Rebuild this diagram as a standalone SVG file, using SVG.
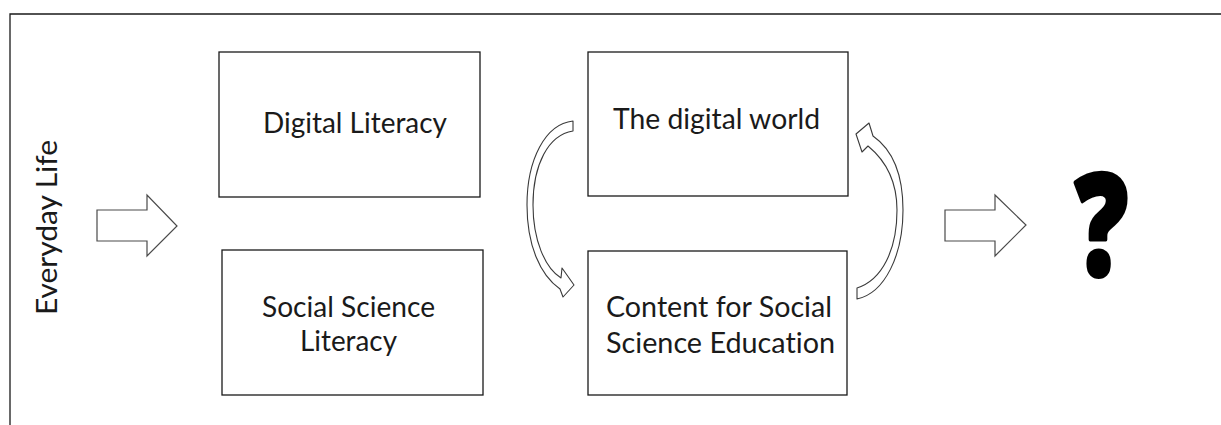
<svg xmlns="http://www.w3.org/2000/svg" width="1221" height="425" viewBox="0 0 1221 425">
  <style>
    .box { fill: #ffffff; stroke: #1a1a1a; stroke-width: 1.3; }
    .lbl { font-family: Lato, "Open Sans", "Liberation Sans", sans-serif; font-size: 28px; fill: #1a1a1a; font-variant-ligatures: none; }
    .blk { fill: #ffffff; stroke: #4a4a4a; stroke-width: 1.2; stroke-linejoin: miter; }
    .crv { fill: #ffffff; stroke: #3a3a3a; stroke-width: 1.1; stroke-linejoin: round; }
    .frame { fill: none; stroke: #1a1a1a; stroke-width: 1.3; }
  </style>
  <rect width="1221" height="425" fill="#ffffff"/>

  <!-- open frame: top and left edges only -->
  <path class="frame" d="M10,425 L10,14 L1221,14"/>

  <g id="everyday-life">
    <text class="lbl" transform="translate(57,315) rotate(-90)" x="0" y="0" textLength="175" lengthAdjust="spacingAndGlyphs">Everyday Life</text>
  </g>

  <g id="digital-literacy">
    <rect class="box" x="219" y="52" width="261" height="145"/>
    <text class="lbl" x="263" y="133" textLength="184" lengthAdjust="spacingAndGlyphs">Digital Literacy</text>
  </g>

  <g id="social-science-literacy">
    <rect class="box" x="222" y="250" width="261" height="145"/>
    <text class="lbl" x="262" y="317" textLength="173" lengthAdjust="spacingAndGlyphs">Social Science</text>
    <text class="lbl" x="300" y="351" textLength="97" lengthAdjust="spacingAndGlyphs">Literacy</text>
  </g>

  <g id="digital-world">
    <rect class="box" x="588" y="52" width="260" height="144"/>
    <text class="lbl" x="613" y="129" textLength="207" lengthAdjust="spacingAndGlyphs">The digital world</text>
  </g>

  <g id="content-social-science">
    <rect class="box" x="588" y="251" width="259" height="144"/>
    <text class="lbl" x="606" y="317" textLength="226" lengthAdjust="spacingAndGlyphs">Content for Social</text>
    <text class="lbl" x="606" y="353" textLength="229" lengthAdjust="spacingAndGlyphs">Science Education</text>
  </g>

  <g id="outcome">
    <text x="1075" y="275" textLength="53" lengthAdjust="spacingAndGlyphs" style="font-family: 'Open Sans', 'Liberation Sans', sans-serif; font-weight: 800; font-size: 142px; fill: #000000; stroke: #000000; stroke-width: 4; stroke-linejoin: round;">?</text>
  </g>

  <g id="connectors">
    <!-- block arrows -->
    <path class="blk" d="M97,210 L147,210 L147,195 L177,226 L147,256 L147,241 L97,241 Z"/>
    <path class="blk" d="M945,210 L995,210 L995,195 L1026,225 L995,256 L995,241 L945,241 Z"/>
    <!-- curved arrow: digital world down to content -->
    <path class="crv" d="M573,121 C545,124 527,160 527,205 C527,245 540,275 560,289 L563,297 L574,285 L562,268 L561,278 C545,268 533,240 533,205 C533,165 548,135 573,131 Z"/>
    <!-- curved arrow: content back up to digital world -->
    <path class="crv" d="M857,299 C885,293 903,255 903,210 C903,175 893,150 873,136 L869,123 L856,134 L862,152 L868,146 C885,160 897,180 897,210 C897,250 882,280 857,288 Z"/>
  </g>
</svg>
